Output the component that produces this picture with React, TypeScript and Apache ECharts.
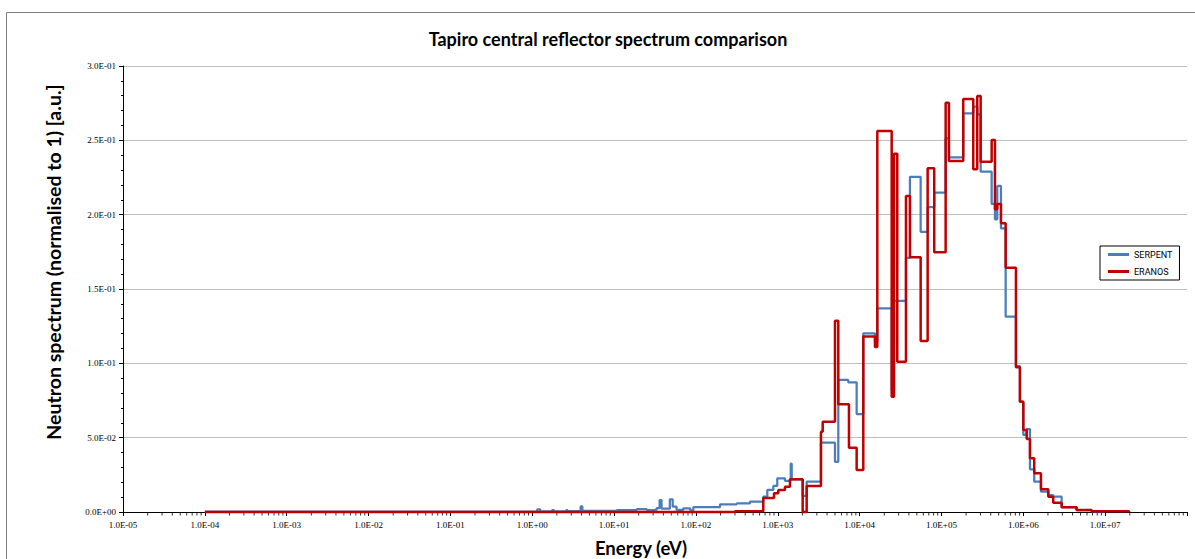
import React, { useEffect, useRef } from "react";
import * as echarts from "echarts";

// ---- Data (bin edges in eV, one value per bin) ----
const serpentEdges = [
  1e-4, 1.15, 1.25, 1.75, 1.85, 2.6, 2.7, 3.9, 4.1, 10.8, 19, 25, 33, 36, 38, 48, 52, 58, 70, 85, 93,
  197, 315, 457, 665, 745, 882, 986, 1225, 1440, 1480, 2015, 2255, 3370, 5000, 5490, 7270, 9200,
  11090, 15400, 16450, 24650, 26300, 36850, 41200, 55700, 67800, 81600, 112500, 123400, 184600,
  244700, 273800, 301300, 410500, 450500, 480600, 533400, 608600, 813000, 909000, 1.0e6, 1.1e6,
  1.206e6, 1.36e6, 1.643e6, 2.02e6, 2.32e6, 2.94e6, 4.48e6, 6.84e6, 1.0e7,
];
const serpentValues = [
  0.0002, 0.0018, 0.0004, 0.0013, 0.0005, 0.0012, 0.0006, 0.0037, 0.0008, 0.0013, 0.002, 0.0013,
  0.0026, 0.008, 0.0022, 0.0085, 0.0036, 0.0014, 0.0025, 0.0011, 0.0032, 0.0052, 0.0058, 0.0069,
  0.0103, 0.0148, 0.0175, 0.0227, 0.021, 0.0325, 0.022, 0.0108, 0.0204, 0.0466, 0.0338, 0.0888,
  0.0872, 0.0659, 0.1202, 0.1146, 0.137, 0.082, 0.142, 0.171, 0.2255, 0.1885, 0.205, 0.2148, 0.2513,
  0.2386, 0.2682, 0.2726, 0.2675, 0.2289, 0.2072, 0.1969, 0.2193, 0.1908, 0.1314, 0.0982, 0.0742,
  0.0518, 0.0558, 0.0287, 0.0204, 0.0137, 0.0114, 0.0103, 0.0032, 0.0012, 0.0005,
];
const eranosEdges = [
  1e-4, 300, 665, 900, 1015, 1225, 1410, 2015, 2255, 3370, 3540, 5000, 5490, 7410, 9200, 11090,
  15400, 16450, 24650, 26300, 28850, 36850, 41200, 55700, 67800, 81600, 112500, 123400, 184600,
  244700, 273800, 301300, 410500, 450500, 480600, 533400, 608600, 813000, 909000, 1.0e6, 1.1e6,
  1.206e6, 1.36e6, 1.643e6, 2.02e6, 2.32e6, 2.94e6, 4.48e6, 6.84e6, 1.96e7,
];
const eranosValues = [
  0, 0.0005, 0.0095, 0.0126, 0.0148, 0.017, 0.022, 0, 0.0175, 0.054, 0.0607, 0.1287, 0.0724, 0.0433,
  0.0283, 0.118, 0.111, 0.2563, 0.0775, 0.241, 0.101, 0.2126, 0.1713, 0.115, 0.2312, 0.1747, 0.2753,
  0.2361, 0.2778, 0.2305, 0.2798, 0.2356, 0.2502, 0.2036, 0.2072, 0.1942, 0.1643, 0.0973, 0.0742,
  0.0552, 0.0491, 0.0361, 0.026, 0.0153, 0.0103, 0.0063, 0.0032, 0.0013, 0.0005,
];
const seriesNames = ["SERPENT", "ERANOS"];
const xTickLabels = [
  "1.0E-05", "1.0E-04", "1.0E-03", "1.0E-02", "1.0E-01", "1.0E+00", "1.0E+01",
  "1.0E+02", "1.0E+03", "1.0E+04", "1.0E+05", "1.0E+06", "1.0E+07",
];
const yTickLabels = ["0.0E+00", "5.0E-02", "1.0E-01", "1.5E-01", "2.0E-01", "2.5E-01", "3.0E-01"];
const minorMultipliers = [2, 3, 4, 5, 6, 7, 8, 9];
const decadeExponents = [-5, -4, -3, -2, -1, 0, 1, 2, 3, 4, 5, 6, 7];

function histogram(edges: number[], values: number[]) {
  const pts: number[][] = [];
  const n = Math.min(values.length, edges.length - 1);
  for (let i = 0; i < n; i++) {
    pts.push([edges[i], values[i]]);
    pts.push([edges[i + 1], values[i]]);
  }
  pts.push([edges[n], 0]);
  return pts;
}

export default function App() {
  const ref = useRef<HTMLDivElement>(null);
  useEffect(() => {
    if (!ref.current) return;
    const chart = echarts.init(ref.current, undefined, { renderer: "svg" });
    const minorTickData: number[][] = [];
    decadeExponents.forEach((e) =>
      minorMultipliers.forEach((m) => minorTickData.push([m * Math.pow(10, e), 0]))
    );
    const tickFont = "'Liberation Serif', 'DejaVu Serif', serif";
    const boldFont = "Lato, 'Open Sans', sans-serif";
    chart.setOption({
      animation: false,
      backgroundColor: "#ffffff",
      title: {
        text: "Tapiro central reflector spectrum comparison",
        left: 608,
        top: 30,
        textAlign: "center",
        padding: 0,
        textStyle: { fontFamily: boldFont, fontWeight: "bold", fontSize: 18, color: "#000" },
      },
      graphic: [
        {
          type: "rect",
          z: -10,
          shape: { x: 6.5, y: 12.5, width: 1300, height: 700 },
          style: { fill: "none", stroke: "#808080", lineWidth: 1 },
          silent: true,
        },
        {
          type: "text",
          x: 53,
          y: 262,
          rotation: Math.PI / 2,
          style: {
            text: "Neutron spectrum (normalised to 1) [a.u.]",
            fontFamily: boldFont,
            fontWeight: "bold",
            fontSize: 19.5,
            fill: "#000",
            textAlign: "center",
            textVerticalAlign: "middle",
          },
        },
        {
          type: "text",
          x: 641,
          y: 548,
          style: {
            text: "Energy (eV)",
            fontFamily: boldFont,
            fontWeight: "bold",
            fontSize: 18.5,
            fill: "#000",
            textAlign: "center",
            textVerticalAlign: "middle",
          },
        },
      ],
      legend: {
        data: seriesNames,
        orient: "vertical",
        left: 1100,
        top: 246,
        itemWidth: 21,
        itemHeight: 3,
        itemGap: 8,
        icon: "rect",
        padding: [4, 7, 4, 8],
        borderColor: "#000",
        borderWidth: 1,
        backgroundColor: "#fff",
        textStyle: {
          fontFamily: "'Liberation Sans Narrow', Roboto, sans-serif",
          fontSize: 9,
          color: "#000",
        },
      },
      grid: { left: 123, right: 8, top: 66, bottom: 47, containLabel: false },
      xAxis: {
        type: "log",
        logBase: 10,
        min: 1e-5,
        max: 1e8,
        interval: 1,
        axisLine: { show: true, lineStyle: { color: "#000", width: 1 } },
        axisTick: { show: true, length: 4, lineStyle: { color: "#000" } },
        splitLine: { show: false },
        axisLabel: {
          margin: 8,
          fontFamily: tickFont,
          fontSize: 9,
          color: "#000",
          formatter: (v: number) => {
            const idx = Math.round(Math.log10(v)) + 5;
            return xTickLabels[idx] ?? "";
          },
        },
      },
      yAxis: {
        type: "value",
        min: 0,
        max: 0.3,
        interval: 0.05,
        axisLine: { show: true, lineStyle: { color: "#000", width: 1 } },
        axisTick: { show: true, length: 4, lineStyle: { color: "#000" } },
        minorTick: { show: true, splitNumber: 5, length: 2, lineStyle: { color: "#000" } },
        splitLine: { show: true, lineStyle: { color: "#bfbfbf", width: 1 } },
        axisLabel: {
          margin: 7,
          fontFamily: tickFont,
          fontSize: 9,
          color: "#000",
          formatter: (v: number) => yTickLabels[Math.round(v / 0.05)] ?? "",
        },
      },
      series: [
        {
          name: "SERPENT",
          type: "line",
          data: histogram(serpentEdges, serpentValues),
          showSymbol: false,
          symbol: "none",
          clip: false,
          lineStyle: { color: "#4a7ebb", width: 2.25 },
          itemStyle: { color: "#4a7ebb" },
          z: 3,
        },
        {
          name: "ERANOS",
          type: "line",
          data: histogram(eranosEdges, eranosValues),
          showSymbol: false,
          symbol: "none",
          clip: false,
          lineStyle: { color: "#c00000", width: 2.5 },
          itemStyle: { color: "#c00000" },
          z: 4,
        },
        {
          name: "minorTicks",
          type: "scatter",
          data: minorTickData,
          symbol: "rect",
          symbolSize: [1, 3],
          symbolOffset: [0, 2],
          itemStyle: { color: "#000" },
          silent: true,
          clip: false,
          z: 2,
        },
      ],
    });
    return () => chart.dispose();
  }, []);
  return (
    <div
      ref={ref}
      style={{ position: "absolute", left: 0, top: 0, width: 1195, height: 559, background: "#fff" }}
    />
  );
}
